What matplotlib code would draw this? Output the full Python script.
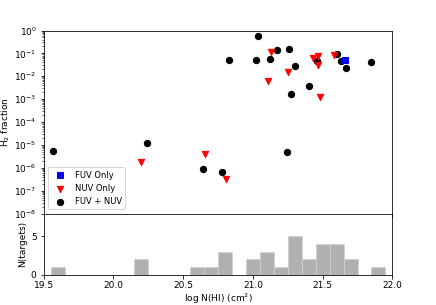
import numpy as np
import matplotlib
matplotlib.use('Agg')
import matplotlib.pyplot as plt

# FUV + NUV detections (black circles)
both_nhi = [19.57, 20.24, 20.64, 20.78, 21.246, 20.83, 21.04, 21.02, 21.12, 21.17,
            21.26, 21.30, 21.40, 21.27, 21.46, 21.60, 21.63, 21.67, 21.85]
both_h2 = [5.6e-6, 1.15e-5, 8.7e-7, 6.2e-7, 4.8e-6, 0.052, 0.56, 0.049, 0.057, 0.14,
           0.15, 0.027, 0.0037, 0.0016, 0.046, 0.098, 0.047, 0.022, 0.040]

# NUV only (red triangles)
nuv_nhi = [20.20, 20.66, 20.81, 21.11, 21.13, 21.25, 21.43, 21.47, 21.47, 21.48, 21.58]
nuv_h2 = [1.8e-6, 3.8e-6, 3.1e-7, 0.0065, 0.12, 0.015, 0.066, 0.078, 0.030, 0.0013, 0.086]

# FUV only (blue square)
fuv_nhi = [21.66]
fuv_h2 = [0.050]

# histogram of N(HI), bins of 0.1 dex
bin_left = [19.55, 20.15, 20.55, 20.65, 20.75, 20.95, 21.05, 21.15, 21.25,
            21.35, 21.45, 21.55, 21.65, 21.85]
bin_count = [1, 2, 1, 1, 3, 2, 3, 1, 5, 2, 4, 4, 2, 1]

plt.rcParams['font.size'] = 9.0
plt.rcParams['legend.fontsize'] = 8.4

fig = plt.figure(figsize=(436 / 72, 305 / 72), dpi=72)
gs = fig.add_gridspec(2, 1, height_ratios=[3, 1], hspace=0,
                      left=0.1, right=0.9, top=0.9, bottom=0.1)
ax1 = fig.add_subplot(gs[0])
ax2 = fig.add_subplot(gs[1], sharex=ax1)

ax1.scatter(fuv_nhi, fuv_h2, marker='s', color='blue', s=40, label='FUV Only', zorder=3)
ax1.scatter(nuv_nhi, nuv_h2, marker='v', color='red', s=40, label='NUV Only', zorder=3)
ax1.scatter(both_nhi, both_h2, marker='o', color='black', s=40, label='FUV + NUV', zorder=2)
ax1.set_yscale('log')
ax1.set_ylim(1e-8, 1)
ax1.set_yticks([10.0**k for k in range(-8, 1)])
ax1.set_ylabel('H$_2$ fraction', labelpad=2)
ax1.tick_params(axis='x', labelbottom=False)
ax1.legend(loc='lower left')

ax2.bar(bin_left, bin_count, width=0.1, align='edge', color='#b0b0b0',
        edgecolor='#d0d0d0', linewidth=0.8)
ax2.set_xlim(19.5, 22.0)
ax2.set_ylim(0, 8)
ax2.set_yticks([0, 5])
ax2.set_xticks([19.5, 20.0, 20.5, 21.0, 21.5, 22.0])
ax2.set_ylabel('N(targets)')
ax2.set_xlabel('log N(HI) (cm$^2$)', labelpad=1)

fig.savefig('out.png', dpi=72)
